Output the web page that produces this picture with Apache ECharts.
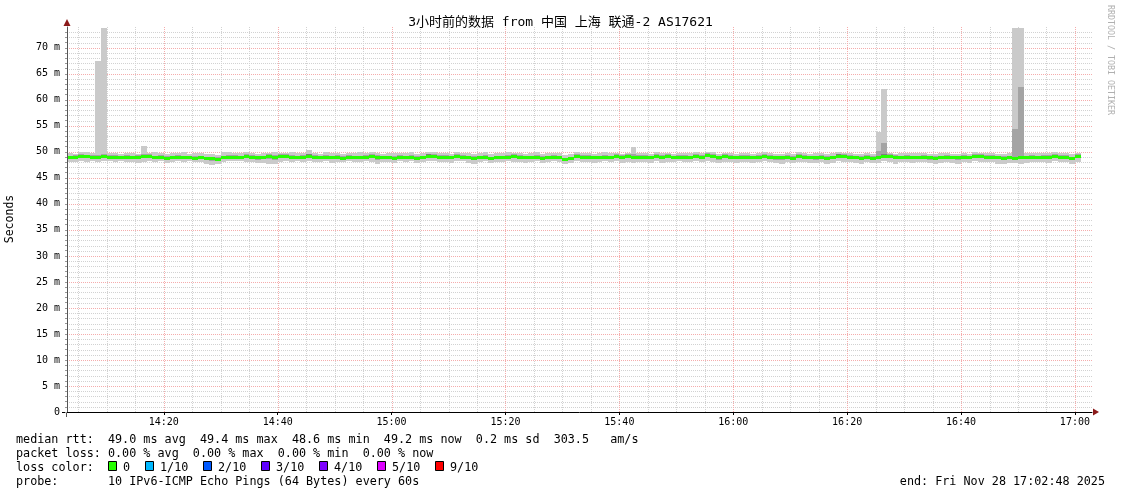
<!DOCTYPE html>
<html><head><meta charset="utf-8">
<script src="https://cdn.jsdelivr.net/npm/echarts@6/dist/echarts.min.js"></script>
<style>html,body{margin:0;padding:0;background:#fff}#c{width:1121px;height:494px}</style>
</head><body><div id="c"></div>
<script>
// minutes after 14:00 of the first 60 s bin
const FIRST_BIN = 3;
// median rtt (ms) per minute
const median = [
 49.0,49.1,49.2,49.2,49.1,49.1,49.2,49.1,49.1,
 49.0,49.1,49.0,49.1,49.2,49.2,49.0,49.1,48.9,49.0,
 49.1,49.0,49.0,48.9,49.0,48.8,48.8,48.7,49.0,49.1,
 49.1,49.0,49.2,49.1,49.0,49.0,49.2,49.1,49.2,49.2,
 49.1,49.0,49.1,49.2,49.1,49.0,49.1,49.0,49.1,48.9,
 49.1,49.0,49.0,49.1,49.2,49.1,49.0,49.0,48.9,49.1,
 49.0,49.1,48.9,49.0,49.3,49.2,49.1,49.1,49.0,49.2,
 49.1,49.0,48.9,49.0,49.1,48.8,49.0,49.0,49.1,49.2,
 49.1,49.0,49.0,49.1,48.9,49.0,49.1,49.0,48.6,48.8,
 49.2,49.1,49.1,49.0,49.0,49.1,49.0,49.2,49.1,49.2,
 49.0,49.1,49.1,49.0,49.2,49.1,49.2,49.0,49.1,49.1,
 49.0,49.2,49.1,49.4,49.2,49.0,49.2,49.1,49.0,49.1,
 49.1,49.0,49.1,49.2,49.1,49.0,49.0,49.1,48.9,49.2,
 49.1,49.0,49.0,49.1,48.9,49.0,49.3,49.2,49.1,49.0,
 48.9,49.1,48.9,49.0,49.3,49.2,49.1,49.0,49.1,49.0,
 49.0,49.1,49.0,48.9,49.0,49.1,49.0,49.0,49.1,49.0,
 49.2,49.2,49.1,49.1,49.0,48.9,49.0,48.9,49.1,49.0,
 49.1,49.0,49.1,49.1,49.2,49.1,49.1,48.8,49.2
];
// fastest ping per minute (ms)
const pingMin = [
 48.0,48.1,48.2,48.0,48.3,48.1,48.2,48.3,48.1,
 48.2,48.0,48.1,47.9,48.1,48.2,48.0,48.3,47.8,48.0,
 48.2,48.1,48.3,48.0,48.1,47.7,47.5,47.7,48.1,48.2,
 48.2,48.3,48.1,48.0,47.8,47.9,47.6,47.7,48.1,48.2,
 48.0,48.2,48.1,48.3,48.0,48.1,48.2,47.9,48.1,48.0,
 48.3,48.1,48.0,48.2,48.1,47.7,48.0,48.1,47.9,48.2,
 48.0,48.2,47.9,48.1,48.3,48.2,48.0,48.1,47.9,48.3,
 48.2,47.9,47.7,48.1,48.2,47.8,48.0,48.1,48.2,48.0,
 48.1,47.9,48.1,48.2,47.8,48.0,48.2,48.1,47.6,47.8,
 48.2,48.1,48.0,47.9,48.1,48.2,48.0,48.2,47.9,48.1,
 47.9,48.0,48.1,47.8,48.2,47.9,48.1,48.0,48.2,48.0,
 48.1,48.2,48.0,48.3,48.1,47.8,48.1,48.0,47.9,48.1,
 48.0,47.9,48.1,48.2,48.0,47.8,47.7,48.0,47.9,48.1,
 48.1,47.9,47.8,48.0,47.7,47.9,48.2,48.1,48.0,47.9,
 47.7,48.0,47.8,47.9,48.2,48.1,47.7,48.0,48.1,47.9,
 48.0,48.1,47.8,47.7,47.9,48.0,47.8,47.7,48.1,47.9,
 48.2,48.1,48.0,48.1,47.7,47.6,47.8,47.9,47.7,47.9,
 48.1,48.0,48.1,47.9,48.2,48.1,48.0,47.7,48.0
];
// slowest ping per minute (ms)
const pingMax = [
 49.7,49.6,50.0,49.9,49.7,67.5,73.9,49.8,49.7,
 49.6,49.8,49.7,49.6,51.1,49.8,49.9,49.7,49.6,49.8,
 49.7,49.9,49.6,49.8,49.7,49.5,49.6,49.4,49.9,50.0,
 49.8,49.7,49.9,49.8,49.6,49.7,49.8,49.9,49.7,49.8,
 49.9,49.8,49.7,50.4,49.8,49.6,49.9,49.7,49.8,49.6,
 49.8,49.7,49.9,49.8,49.9,49.7,49.6,49.8,49.7,49.8,
 49.7,49.9,49.6,49.8,50.0,49.9,49.7,49.8,49.6,49.9,
 49.8,49.7,49.6,49.8,49.9,49.5,49.7,49.8,49.9,49.8,
 49.7,49.6,49.8,49.9,49.6,49.7,49.8,49.7,49.4,49.5,
 49.9,49.8,49.7,49.6,49.8,49.9,49.7,49.8,49.6,49.8,
 50.9,49.7,49.8,49.6,49.9,49.7,49.8,49.6,49.8,49.7,
 49.7,49.9,49.8,50.0,49.9,49.6,49.8,49.7,49.6,49.8,
 49.8,49.6,49.7,49.9,49.8,49.6,49.5,49.7,49.6,49.9,
 49.8,49.6,49.7,49.8,49.5,49.7,49.9,49.8,49.7,49.6,
 49.5,49.8,49.6,53.9,62.1,49.8,49.6,49.7,49.8,49.7,
 49.7,49.8,49.6,49.5,49.7,49.8,49.6,49.6,49.7,49.6,
 49.9,49.8,49.7,49.8,49.6,49.5,49.7,73.9,73.9,49.7,
 49.8,49.7,49.8,49.7,49.9,49.8,49.7,49.6,49.8
];
// 2nd fastest ping per minute (ms)
const ping2 = [
 48.6,48.8,48.9,48.8,48.9,48.8,48.9,48.8,48.7,
 48.7,48.8,48.6,48.8,48.9,48.9,48.6,48.8,48.5,48.7,
 48.8,48.7,48.7,48.6,48.7,48.4,48.3,48.4,48.7,48.8,
 48.8,48.7,48.9,48.7,48.5,48.6,48.6,48.5,48.9,48.9,
 48.8,48.7,48.8,48.9,48.8,48.7,48.8,48.6,48.8,48.6,
 48.8,48.7,48.6,48.8,48.9,48.5,48.7,48.7,48.6,48.8,
 48.7,48.8,48.6,48.7,49.0,48.9,48.7,48.8,48.6,48.9,
 48.8,48.6,48.5,48.7,48.8,48.4,48.7,48.7,48.8,48.8,
 48.8,48.6,48.7,48.8,48.5,48.7,48.8,48.7,48.3,48.5,
 48.9,48.8,48.7,48.6,48.7,48.8,48.7,48.9,48.7,48.9,
 48.7,48.8,48.8,48.6,48.9,48.7,48.9,48.6,48.8,48.8,
 48.7,48.9,48.8,49.0,48.9,48.5,48.9,48.8,48.6,48.8,
 48.8,48.6,48.8,48.9,48.7,48.5,48.4,48.8,48.5,48.9,
 48.8,48.6,48.5,48.8,48.4,48.6,49.0,48.9,48.8,48.6,
 48.5,48.8,48.5,48.7,49.0,48.9,48.6,48.7,48.8,48.6,
 48.7,48.8,48.5,48.4,48.7,48.8,48.6,48.5,48.8,48.6,
 48.9,48.9,48.8,48.8,48.6,48.4,48.6,48.5,48.8,48.7,
 48.8,48.7,48.8,48.7,48.9,48.8,48.8,48.4,48.9
];
// 2nd slowest ping per minute (ms)
const ping9 = [
 49.3,49.4,49.5,49.4,49.4,49.4,49.5,49.4,49.4,
 49.3,49.4,49.3,49.4,49.5,49.5,49.3,49.4,49.2,49.3,
 49.4,49.3,49.3,49.2,49.3,49.1,49.1,49.0,49.3,49.4,
 49.4,49.3,49.5,49.4,49.3,49.3,49.5,49.4,49.5,49.5,
 49.4,49.3,49.4,49.6,49.4,49.3,49.4,49.3,49.4,49.2,
 49.4,49.3,49.3,49.4,49.5,49.4,49.3,49.3,49.2,49.4,
 49.3,49.4,49.2,49.3,49.6,49.5,49.4,49.4,49.3,49.5,
 49.4,49.3,49.2,49.3,49.4,49.1,49.3,49.3,49.4,49.5,
 49.4,49.3,49.3,49.4,49.2,49.3,49.4,49.3,48.9,49.1,
 49.5,49.4,49.4,49.3,49.3,49.4,49.3,49.5,49.4,49.5,
 49.6,49.4,49.4,49.3,49.5,49.4,49.5,49.3,49.4,49.4,
 49.3,49.5,49.4,49.7,49.5,49.3,49.5,49.4,49.3,49.4,
 49.4,49.3,49.4,49.5,49.4,49.3,49.3,49.4,49.2,49.5,
 49.4,49.3,49.3,49.4,49.2,49.3,49.6,49.5,49.4,49.3,
 49.2,49.4,49.2,50.2,51.8,49.5,49.4,49.3,49.4,49.3,
 49.3,49.4,49.3,49.2,49.3,49.4,49.3,49.3,49.4,49.3,
 49.5,49.5,49.4,49.4,49.3,49.2,49.3,54.3,62.4,49.3,
 49.4,49.3,49.4,49.4,49.5,49.4,49.4,49.1,49.5
];
// 3rd fastest ping per minute (ms)
const ping3 = [
 48.8,48.9,48.9,49.0,48.9,48.9,49.0,48.9,48.8,
 48.8,48.9,48.7,48.9,49.0,49.0,48.7,48.9,48.6,48.8,
 48.9,48.8,48.8,48.7,48.8,48.5,48.5,48.5,48.8,48.9,
 48.9,48.8,49.0,48.8,48.7,48.7,48.8,48.7,49.0,49.0,
 48.9,48.8,48.9,49.0,48.9,48.8,48.9,48.7,48.9,48.7,
 48.9,48.8,48.7,48.9,49.0,48.7,48.8,48.8,48.7,48.9,
 48.8,48.9,48.7,48.8,49.1,49.0,48.8,48.9,48.7,49.0,
 48.9,48.7,48.6,48.8,48.9,48.5,48.8,48.8,48.9,49.0,
 48.9,48.7,48.8,48.9,48.6,48.8,48.9,48.8,48.4,48.6,
 49.0,48.9,48.8,48.7,48.8,48.9,48.8,49.0,48.8,49.0,
 48.8,48.9,48.9,48.7,49.0,48.8,49.0,48.7,48.9,48.9,
 48.8,49.0,48.9,49.2,49.0,48.7,49.0,48.9,48.7,48.9,
 48.9,48.7,48.9,49.0,48.8,48.7,48.6,48.9,48.6,49.0,
 48.9,48.7,48.7,48.9,48.6,48.7,49.1,49.0,48.9,48.7,
 48.6,48.9,48.6,48.8,49.1,49.0,48.8,48.8,48.9,48.7,
 48.8,48.9,48.7,48.6,48.8,48.9,48.7,48.7,48.9,48.7,
 49.0,49.0,48.9,48.9,48.7,48.6,48.8,48.7,48.9,48.8,
 48.9,48.8,48.9,48.8,49.0,48.9,48.9,48.6,49.0
];
// 3rd slowest ping per minute (ms)
const ping8 = [
 49.2,49.3,49.4,49.3,49.3,49.3,49.3,49.3,49.3,
 49.2,49.3,49.2,49.3,49.4,49.4,49.2,49.3,49.1,49.2,
 49.3,49.2,49.2,49.1,49.2,49.0,49.0,48.9,49.2,49.3,
 49.3,49.2,49.4,49.3,49.2,49.2,49.4,49.3,49.4,49.4,
 49.3,49.2,49.3,49.5,49.3,49.2,49.3,49.2,49.3,49.1,
 49.3,49.2,49.2,49.3,49.4,49.3,49.2,49.2,49.1,49.3,
 49.2,49.3,49.1,49.2,49.5,49.4,49.3,49.3,49.2,49.4,
 49.3,49.2,49.1,49.2,49.3,49.0,49.2,49.2,49.3,49.4,
 49.3,49.2,49.2,49.3,49.1,49.2,49.3,49.2,48.8,49.0,
 49.4,49.3,49.3,49.2,49.2,49.3,49.2,49.4,49.3,49.4,
 49.3,49.3,49.3,49.2,49.4,49.3,49.4,49.2,49.3,49.3,
 49.2,49.4,49.3,49.6,49.4,49.2,49.4,49.3,49.2,49.3,
 49.3,49.2,49.3,49.4,49.3,49.2,49.2,49.3,49.1,49.4,
 49.3,49.2,49.2,49.3,49.1,49.2,49.5,49.4,49.3,49.2,
 49.1,49.3,49.1,49.2,49.5,49.4,49.3,49.2,49.3,49.2,
 49.2,49.3,49.2,49.1,49.2,49.3,49.2,49.2,49.3,49.2,
 49.4,49.4,49.3,49.3,49.2,49.1,49.2,49.1,49.3,49.2,
 49.3,49.2,49.3,49.3,49.4,49.3,49.3,49.0,49.4
];

const xMajorMinutes = [20,40,60,80,100,120,140,160,180];
const xLabels = ['14:20','14:40','15:00','15:20','15:40','16:00','16:20','16:40','17:00'];
const xMinorMinutes = [5,10,15,25,30,35,45,50,55,65,70,75,85,90,95,105,110,115,125,130,135,145,150,155,165,170,175];
const yMajor = [5,10,15,20,25,30,35,40,45,50,55,60,65,70];
const yMinor = [1,2,3,4,6,7,8,9,11,12,13,14,16,17,18,19,21,22,23,24,26,27,28,29,31,32,33,34,36,37,38,39,
  41,42,43,44,46,47,48,49,51,52,53,54,56,57,58,59,61,62,63,64,66,67,68,69,71,72,73];
const lossColors = ['#26ff00','#00b8ff','#0059ff','#5e00ff','#7e00ff','#dd00ff','#ff0000'];
const lossLabels = ['0','1/10','2/10','3/10','4/10','5/10','9/10'];
const titleText = '3小时前的数据 from 中国 上海 联通-2 AS17621';
const line1 = 'median rtt:  49.0 ms avg  49.4 ms max  48.6 ms min  49.2 ms now  0.2 ms sd  303.5   am/s';
const line2 = 'packet loss: 0.00 % avg  0.00 % max  0.00 % min  0.00 % now';
const line3 = 'loss color:';
const line4 = 'probe:       10 IPv6-ICMP Echo Pings (64 Bytes) every 60s';
const endText = 'end: Fri Nov 28 17:02:48 2025';

const MONO = '"DejaVu Sans Mono","Noto Sans CJK SC",monospace';
const minorColor = '#d2d2d2';
const majorColor = '#f5acac';
const chart = echarts.init(document.getElementById('c'), null, {renderer: 'canvas'});

function rectRenderer(color) {
  return function (params, api) {
    const s = api.value(0);
    const a = api.coord([s, api.value(2)]);
    const b = api.coord([s + 1, api.value(1)]);
    const x0 = Math.round(a[0]), x1 = Math.round(b[0]);
    const y0 = Math.round(a[1]), y1 = Math.round(b[1]);
    const cs = params.coordSys;
    const shape = echarts.graphic.clipRectByRect(
      {x: x0, y: y0, width: x1 - x0, height: Math.max(1, y1 - y0)},
      {x: cs.x, y: cs.y, width: cs.width, height: cs.height});
    return shape ? {type: 'rect', shape: shape, style: {fill: color}} : null;
  };
}
function medianRenderer(params, api) {
  const s = api.value(0);
  const a = api.coord([s, api.value(1)]);
  const b = api.coord([s + 1, api.value(1)]);
  const x0 = Math.round(a[0]), x1 = Math.round(b[0]);
  const yc = Math.round(a[1]);
  const cs = params.coordSys;
  const shape = echarts.graphic.clipRectByRect(
    {x: x0, y: yc - 1, width: x1 - x0, height: 3},
    {x: cs.x, y: cs.y, width: cs.width, height: cs.height});
  return shape ? {type: 'rect', shape: shape, style: {fill: lossColors[0]}} : null;
}
// grid lines through the axes' scale (crisp, whole pixels)
function gridRenderer(params, api) {
  const cs = params.coordSys;
  const children = [];
  const addV = (v, color) => {
    const x = Math.round(api.coord([v, 0])[0]) + 0.5;
    children.push({type: 'line', shape: {x1: x, y1: cs.y, x2: x, y2: cs.y + cs.height},
      style: {stroke: color, lineWidth: 1, lineDash: [1, 1]}});
  };
  const addH = (v, color) => {
    const y = Math.round(api.coord([3, v])[1]) + 0.5;
    children.push({type: 'line', shape: {x1: cs.x, y1: y, x2: cs.x + cs.width, y2: y},
      style: {stroke: color, lineWidth: 1, lineDash: [1, 1]}});
  };
  xMinorMinutes.forEach(v => addV(v, minorColor));
  yMinor.forEach(v => addH(v, minorColor));
  xMajorMinutes.forEach(v => addV(v, majorColor));
  yMajor.forEach(v => addH(v, majorColor));
  return {type: 'group', children: children};
}

const bin = i => FIRST_BIN + i;
const layer1 = median.map((m, i) => [bin(i), pingMin[i], pingMax[i]]);
const layer2 = median.map((m, i) => [bin(i), ping2[i], ping9[i]]);
const layer3 = median.map((m, i) => [bin(i), ping3[i], ping8[i]]);
const medData = median.map((m, i) => [bin(i), m]);

const FONT = '11.75px ' + MONO;

const graphics = [
  {type: 'text', x: 16, y: 440, style: {text: line1, font: FONT, fill: '#000', verticalAlign: 'middle'}},
  {type: 'text', x: 16, y: 454, style: {text: line2, font: FONT, fill: '#000', verticalAlign: 'middle'}},
  {type: 'text', x: 16, y: 468, style: {text: line3, font: FONT, fill: '#000', verticalAlign: 'middle'}},
  {type: 'text', x: 16, y: 482, style: {text: line4, font: FONT, fill: '#000', verticalAlign: 'middle'}},
  {type: 'text', x: 1105, y: 482, style: {text: endText, font: FONT, fill: '#000', align: 'right', verticalAlign: 'middle'}},
  {type: 'text', x: 10, y: 219, rotation: Math.PI / 2, style: {text: 'Seconds', font: '11.5px ' + MONO, fill: '#000', align: 'center', verticalAlign: 'middle'}},
  {type: 'text', x: 1110, y: 60, rotation: -Math.PI / 2, style: {text: 'RRDTOOL / TOBI OETIKER', font: '8.3px ' + MONO, fill: '#b0b0b0', align: 'center', verticalAlign: 'middle'}},
  {type: 'polygon', shape: {points: [[63.5, 26], [70.5, 26], [67, 19]]}, style: {fill: '#8b1a1a'}},
  {type: 'polygon', shape: {points: [[1093, 408.5], [1093, 415.5], [1099, 412]]}, style: {fill: '#8b1a1a'}},
  {type: 'line', shape: {x1: 62, y1: 412.5, x2: 67, y2: 412.5}, style: {stroke: '#000', lineWidth: 1}},
  {type: 'line', shape: {x1: 66.5, y1: 412, x2: 66.5, y2: 417}, style: {stroke: '#555', lineWidth: 1}}
];
const sqX = [108, 145, 203, 261, 319, 377, 435];
const lblX = [123, 160, 218, 276, 334, 392, 450];
lossColors.forEach((c, i) => {
  graphics.push({type: 'rect', shape: {x: sqX[i] + 0.5, y: 461.5, width: 8, height: 9}, style: {fill: c, stroke: '#000', lineWidth: 1}});
  graphics.push({type: 'text', x: lblX[i], y: 468, style: {text: lossLabels[i], font: FONT, fill: '#000', verticalAlign: 'middle'}});
});

chart.setOption({
  animation: false,
  backgroundColor: '#fff',
  title: {text: titleText, left: 'center', top: 11, textStyle: {fontFamily: MONO, fontSize: 13, fontWeight: 'normal', color: '#000'}},
  grid: {left: 67, right: 29, top: 27, bottom: 82, containLabel: false},
  xAxis: {
    type: 'value', min: 3, max: 183, z: 20,
    axisLine: {show: true, lineStyle: {color: '#000'}},
    axisTick: {show: true, customValues: xMajorMinutes, length: 3, lineStyle: {color: '#000'}},
    axisLabel: {customValues: xMajorMinutes, margin: 5, fontFamily: MONO, fontSize: 10, color: '#000',
      formatter: v => xLabels[xMajorMinutes.indexOf(Math.round(v))] || ''},
    splitLine: {show: false}
  },
  yAxis: {
    type: 'value', min: 0, max: 74, interval: 1, z: 20,
    axisLine: {show: true, lineStyle: {color: '#555'}},
    axisTick: {show: true, length: 2, lineStyle: {color: '#999'}},
    axisLabel: {margin: 7, fontFamily: MONO, fontSize: 10, color: '#000', showMaxLabel: false,
      formatter: v => (v % 5 === 0 ? (v === 0 ? '0' : v + ' m') : '')},
    splitLine: {show: false}
  },
  graphic: graphics,
  series: [
    {type: 'custom', name: 'grid', z: 1, silent: true, renderItem: gridRenderer, data: [[3, 0]]},
    {type: 'custom', name: 'ping 1-10', z: 10, silent: true, clip: true, renderItem: rectRenderer('#cacaca'), data: layer1},
    {type: 'custom', name: 'ping 2-9', z: 11, silent: true, clip: true, renderItem: rectRenderer('#a4a4a4'), data: layer2},
    {type: 'custom', name: 'ping 3-8', z: 12, silent: true, clip: true, renderItem: rectRenderer('#7e7e7e'), data: layer3},
    {type: 'custom', name: 'median', z: 13, silent: true, clip: true, renderItem: medianRenderer, data: medData}
  ]
});
</script></body></html>
